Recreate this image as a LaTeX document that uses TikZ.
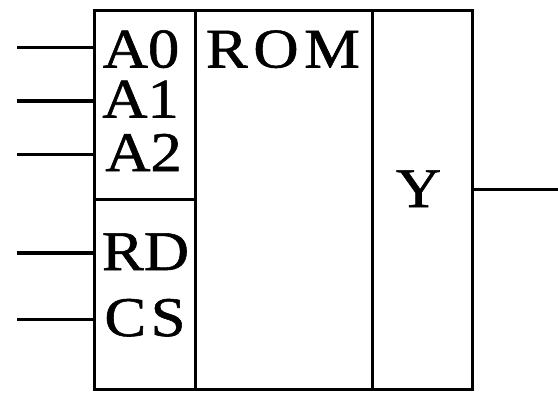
\documentclass[tikz,border=0pt]{standalone}
\usepackage{fontspec}
\setmainfont[FakeBold=1,FakeStretch=1.12]{Liberation Serif}
\tikzset{lbl/.style={inner sep=0pt,anchor=base,font=\fontsize{56}{56}\selectfont,text=black},ln/.style={draw=black,line width=3pt},lnb/.style={draw=black,line width=4pt}}
\begin{document}
\begin{tikzpicture}[x=1pt,y=-1pt]
\useasboundingbox (0,0) rectangle (558,397);
\fill[white] (0,0) rectangle (558,397);
\coordinate (tl) at (94.7,10);
\coordinate (br) at (472.5,389.3);
\draw[ln] (tl) rectangle (br);
\draw[ln] (195.4,10) -- (195.4,389.3);
\draw[ln] (372.2,10) -- (372.2,389.3);
\draw[ln] (94.7,199.4) -- (195.4,199.4);
\node[lbl] (a0) at (141,67.5) {A0};
\node[lbl] (a1) at (140.5,117.5) {A1};
\node[lbl] (a2) at (143.5,171) {A2};
\node[lbl] (rd) at (145.5,270) {RD};
\node[lbl] (cs) at (145,336) {\addfontfeature{LetterSpace=8}CS};
\node[lbl] (rom) at (283,67.5) {\addfontfeature{LetterSpace=10}ROM};
\node[lbl] (y) at (418.5,207) {Y};
\coordinate (i0) at (17,47.5);
\coordinate (i1) at (17,100.5);
\coordinate (i2) at (17,154);
\coordinate (i3) at (17,253);
\coordinate (i4) at (17,319.5);
\coordinate (o) at (558,189);
\draw[ln] (i0) -- (94.7,47.5);
\draw[lnb] (i1) -- (94.7,100.5);
\draw[ln] (i2) -- (94.7,154);
\draw[lnb] (i3) -- (94.7,253);
\draw[ln] (i4) -- (94.7,319.5);
\draw[ln] (472.5,189) -- (o);
\end{tikzpicture}
\end{document}
